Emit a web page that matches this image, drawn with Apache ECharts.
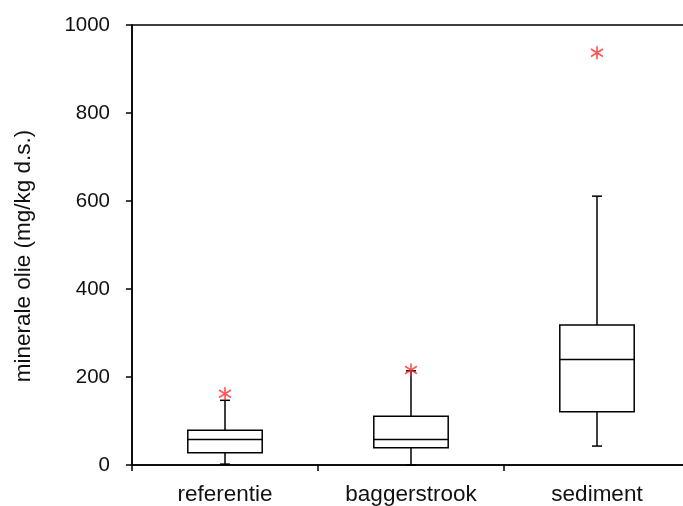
<!DOCTYPE html>
<html>
<head>
<meta charset="utf-8">
<script src="https://cdn.jsdelivr.net/npm/echarts@6/dist/echarts.min.js"></script>
<style>
html,body{margin:0;padding:0;background:#fff;overflow:hidden;width:683px;height:506px;}
#chart{width:720px;height:506px;}
</style>
</head>
<body>
<div id="chart"></div>
<script>
var categories = ['referentie', 'baggerstrook', 'sediment'];
var lowWhisker = [2, 0, 43];
var q1 = [28, 39, 121];
var median = [58, 58, 240];
var q3 = [79, 111, 318];
var highWhisker = [147, 214, 611];
var outlierValues = [162, 216, 937];
var yTicks = [0, 200, 400, 600, 800, 1000];

var boxData = categories.map(function (c, i) {
  return [i, lowWhisker[i], q1[i], median[i], q3[i], highWhisker[i]];
});
var outlierData = categories.map(function (c, i) {
  return [i, outlierValues[i]];
});

var chart = echarts.init(document.getElementById('chart'));
var lineStyle = { stroke: '#000', lineWidth: 1.5, fill: null };

function renderBox(params, api) {
  var x = api.value(0);
  var pLow = api.coord([x, api.value(1)]);
  var pQ1 = api.coord([x, api.value(2)]);
  var pMed = api.coord([x, api.value(3)]);
  var pQ3 = api.coord([x, api.value(4)]);
  var pHigh = api.coord([x, api.value(5)]);
  var bw = api.size([1, 0])[0] * 0.4;
  var cap = 10;
  var cx = pMed[0];
  var half = bw / 2;
  return {
    type: 'group',
    children: [
      { type: 'rect', shape: { x: cx - half, y: pQ3[1], width: bw, height: pQ1[1] - pQ3[1] }, style: lineStyle },
      { type: 'line', shape: { x1: cx - half, y1: pMed[1], x2: cx + half, y2: pMed[1] }, style: lineStyle },
      { type: 'line', shape: { x1: cx, y1: pQ3[1], x2: cx, y2: pHigh[1] }, style: lineStyle },
      { type: 'line', shape: { x1: cx, y1: pQ1[1], x2: cx, y2: pLow[1] }, style: lineStyle },
      { type: 'line', shape: { x1: cx - cap / 2, y1: pHigh[1], x2: cx + cap / 2, y2: pHigh[1] }, style: lineStyle },
      { type: 'line', shape: { x1: cx - cap / 2, y1: pLow[1], x2: cx + cap / 2, y2: pLow[1] }, style: lineStyle }
    ]
  };
}

chart.setOption({
  animation: false,
  backgroundColor: '#fff',
  grid: {
    left: 132, top: 25, bottom: 39, width: 558,
    show: true, borderColor: '#000', borderWidth: 1.5, backgroundColor: 'transparent'
  },
  xAxis: {
    type: 'category',
    data: categories,
    boundaryGap: true,
    axisLine: { lineStyle: { color: '#000', width: 1.5 } },
    axisTick: { show: true, length: 6, lineStyle: { color: '#000', width: 1.5 } },
    axisLabel: { color: '#111', fontSize: 22.5, fontFamily: 'Liberation Sans, Arial, sans-serif', margin: 18 },
    splitLine: { show: false }
  },
  yAxis: {
    type: 'value',
    min: yTicks[0],
    max: yTicks[yTicks.length - 1],
    interval: 200,
    name: 'minerale olie (mg/kg d.s.)',
    nameLocation: 'middle',
    nameGap: 97,
    nameTextStyle: {
      color: '#111', fontSize: 22.5, fontFamily: 'Liberation Sans, Arial, sans-serif',
      padding: [0, 22, 0, 0]
    },
    axisLine: { show: true, lineStyle: { color: '#000', width: 1.5 } },
    axisTick: { show: true, length: 6, lineStyle: { color: '#000', width: 1.5 } },
    axisLabel: {
      color: '#111', fontSize: 20.5, fontFamily: 'Liberation Sans, Arial, sans-serif', margin: 22,
      formatter: function (v) { return String(v); }
    },
    splitLine: { show: false }
  },
  series: [
    {
      type: 'custom',
      renderItem: renderBox,
      data: boxData,
      encode: { x: 0, y: [1, 2, 3, 4, 5] },
      z: 2
    },
    {
      type: 'scatter',
      data: outlierData,
      symbol: 'path://M5,0L5,12M0,2.5L10,9.5M0,9.5L10,2.5',
      symbolSize: [12, 13],
      itemStyle: { color: 'rgba(0,0,0,0)', borderColor: '#ff2a2a', borderWidth: 1.7 },
      z: 3
    }
  ]
});
</script>
</body>
</html>
